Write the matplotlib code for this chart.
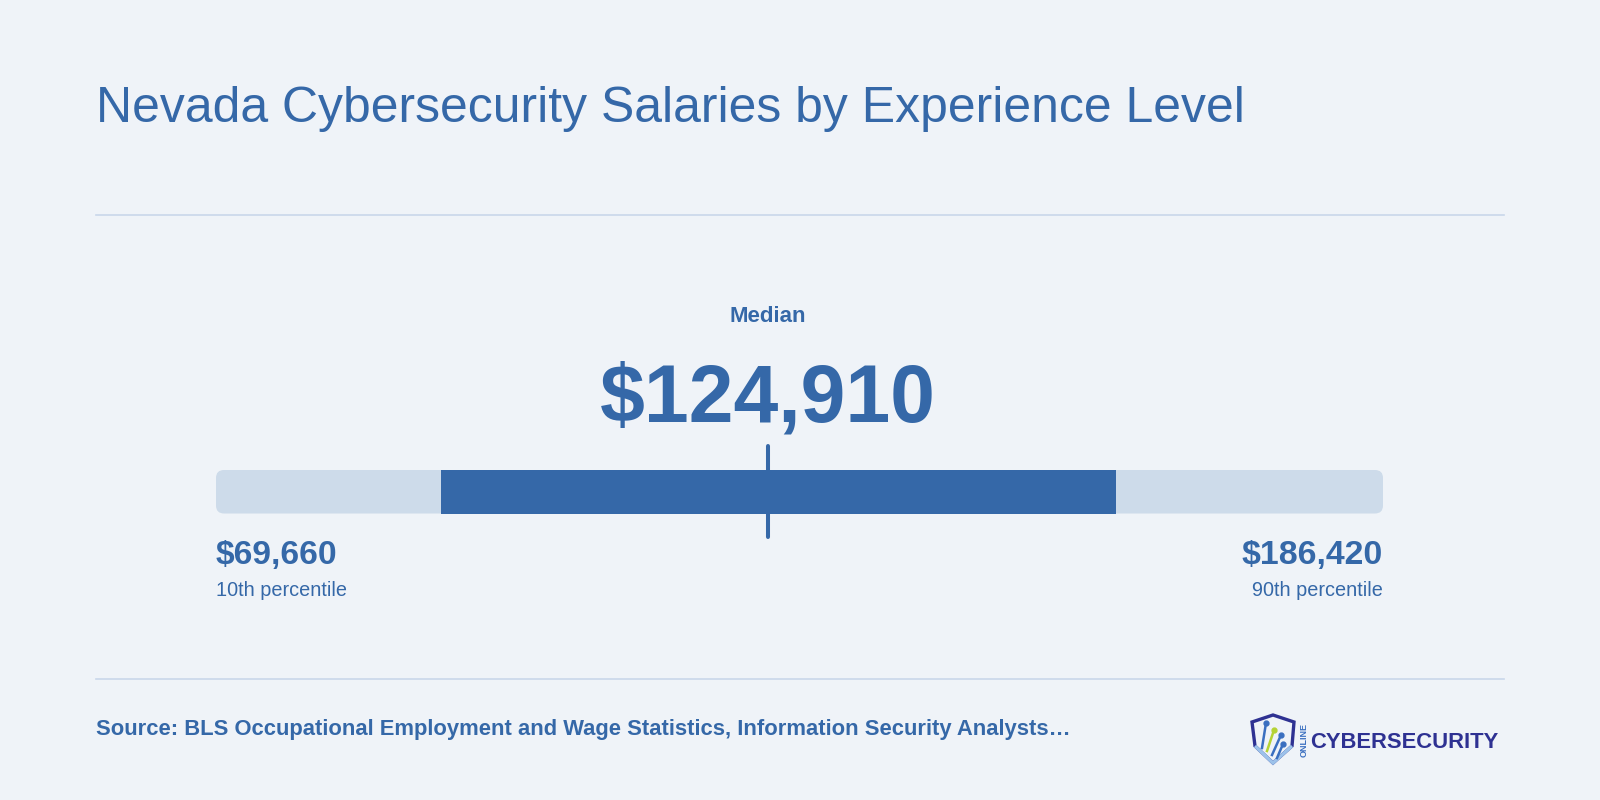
import matplotlib
matplotlib.use("Agg")
import matplotlib.pyplot as plt
from matplotlib.patches import FancyBboxPatch, Polygon
from matplotlib.lines import Line2D

# ---- data ----
title = "Nevada Cybersecurity Salaries by Experience Level"
percentile_labels = ["10th percentile", "25th percentile", "Median", "75th percentile", "90th percentile"]
salaries = [69660, 92170, 124910, 159700, 186420]
source_text = "Source: BLS Occupational Employment and Wage Statistics, Information Security Analysts\u2026"

p10, p25, med, p75, p90 = salaries

BG = "#eff3f8"
DARK = "#3568a8"
LIGHT = "#cddbea"
RULE = "#c9d7ea"
NAVY = "#2e3192"

W, H = 1600, 800
plt.rcParams['font.family'] = ['Liberation Sans', 'DejaVu Sans']
fig = plt.figure(figsize=(16, 8), dpi=100, facecolor=BG)

def fx(px):
    return px / W

def fy(py):
    return 1 - py / H

# title
fig.text(fx(96), fy(122.3), title, fontsize=35.9, color=DARK, va='baseline', ha='left')

# rules
for yy in (215, 679):
    fig.add_artist(Line2D([fx(96), fx(1504)], [fy(yy), fy(yy)], color=RULE, lw=1.2,
                          transform=fig.transFigure))

# bar axes
bar_l, bar_r, bar_t, bar_b = 216, 1383, 470, 513.5
ax = fig.add_axes([fx(bar_l), fy(bar_b), (bar_r - bar_l) / W, (bar_b - bar_t) / H])
ax.set_xlim(p10, p90)
ax.set_ylim(0, 1)
ax.axis('off')
ax.patch.set_alpha(0)

px_per_x = (bar_r - bar_l) / (p90 - p10)
px_per_y = (bar_b - bar_t)
r_px = 8
rx = r_px / px_per_x
ry_aspect = (r_px / px_per_y) / rx
bg = FancyBboxPatch((p10, 0), p90 - p10, 1,
                    boxstyle=f"round,pad=0,rounding_size={rx}",
                    mutation_aspect=ry_aspect, facecolor=LIGHT, edgecolor='none', clip_on=False)
ax.add_patch(bg)
ax.barh([0.5], [p75 - p25], left=[p25], height=1.0, color=DARK, edgecolor='none')
ax.plot([med, med], [-0.55, 1.55], color=DARK, lw=2.9, solid_capstyle='round', clip_on=False)

# median labels
cx = fx(bar_l + (med - p10) * px_per_x)
fig.text(cx, fy(322.3), percentile_labels[2], fontsize=16, fontweight='bold', color=DARK,
         ha='center', va='baseline')
fig.text(cx, fy(421.7), f"${med:,}", fontsize=58, fontweight='bold', color=DARK,
         ha='center', va='baseline')

# end labels
fig.text(fx(bar_l), fy(564.3), f"${p10:,}", fontsize=24.2, fontweight='bold', color=DARK,
         ha='left', va='baseline')
fig.text(fx(bar_l), fy(595.7), percentile_labels[0], fontsize=14.3, color=DARK,
         ha='left', va='baseline')
fig.text(fx(bar_r), fy(564.3), f"${p90:,}", fontsize=24.4, fontweight='bold', color=DARK,
         ha='right', va='baseline')
fig.text(fx(bar_r), fy(595.7), percentile_labels[4], fontsize=14.3, color=DARK,
         ha='right', va='baseline')

# source
fig.text(fx(96), fy(735), source_text, fontsize=15.8, fontweight='bold', color=DARK,
         ha='left', va='baseline')

# logo
fig.text(fx(1310), fy(748), "CYBERSECURITY", fontsize=15.8, fontweight='bold', color=NAVY,
         ha='left', va='baseline')
fig.text(fx(1304), fy(740), "ONLINE", fontsize=6.5, fontweight='bold', color='#3a6fc0',
         ha='center', va='center', rotation=90)
shield = [(1252, 722), (1273, 715), (1294, 722), (1292, 746), (1273, 763), (1255, 746)]
fig.add_artist(Polygon([(fx(x), fy(y)) for x, y in shield], closed=True, fill=False,
                       edgecolor=NAVY, lw=2.4, transform=fig.transFigure))
fig.add_artist(Polygon([(fx(x), fy(y)) for x, y in [(1255, 746), (1273, 763), (1292, 746)]],
                       closed=False, fill=False, edgecolor='#9cc2ea', lw=2.4,
                       transform=fig.transFigure))
for (x0, y0, x1, y1, c) in [(1262, 748, 1266, 723, '#3a6fc0'), (1267, 751, 1274, 730, '#b5d334'),
                            (1272, 755, 1281, 735, '#3a6fc0'), (1277, 758, 1283, 744, '#3a6fc0')]:
    fig.add_artist(Line2D([fx(x0), fx(x1)], [fy(y0), fy(y1)], color=c, lw=1.8,
                          transform=fig.transFigure))
    fig.add_artist(Line2D([fx(x1)], [fy(y1)], marker='o', ms=3.5, color=c,
                          transform=fig.transFigure))

fig.savefig("out.png", dpi=100, facecolor=BG)
